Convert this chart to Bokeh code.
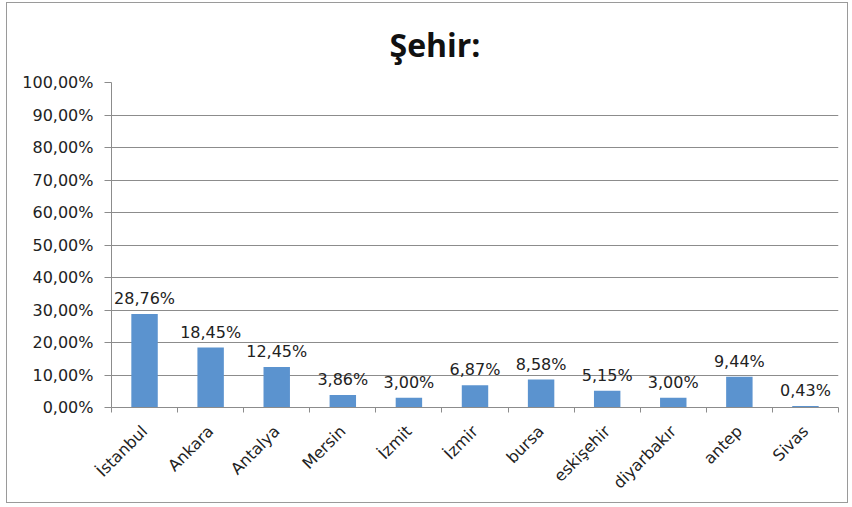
import math
from bokeh.plotting import figure
from bokeh.models import (ColumnDataSource, FixedTicker, CustomJSTickFormatter, Range1d, Title, LabelSet)
from bokeh.core.properties import value
from bokeh.embed import file_html
from bokeh.resources import INLINE

cities = ["İstanbul", "Ankara", "Antalya", "Mersin", "İzmit", "İzmir", "bursa",
          "eskişehir", "diyarbakır", "antep", "Sivas"]
shares = [28.76, 18.45, 12.45, 3.86, 3.00, 6.87, 8.58, 5.15, 3.00, 9.44, 0.43]
y_ticks = [0, 10, 20, 30, 40, 50, 60, 70, 80, 90, 100]
title_text = "Şehir:"

centers = [i + 0.5 for i in range(len(cities))]
bounds = list(range(len(cities) + 1))
labels = [f"{v:.2f}".replace(".", ",") + "%" for v in shares]

src = ColumnDataSource(dict(x=centers, top=shares, lab=labels))

p = figure(width=842, height=501, output_backend="svg", toolbar_location=None,
           x_range=Range1d(0, len(cities)), y_range=Range1d(0, 100),
           min_border_left=104, min_border_right=11, min_border_top=79, min_border_bottom=97)
p.title = None
p.add_layout(Title(text=title_text, align="left", offset=278, text_font="Open Sans",
                   text_font_size="32px", text_font_style="bold", text_color="#111111",
                   standoff=34), "above")
p.outline_line_color = None
p.background_fill_color = "white"
p.border_fill_color = "white"
p.styles = {"border": "1px solid #9a9a9a", "margin-left": "6px", "margin-top": "2px"}

p.vbar(x="x", top="top", width=0.4, source=src, fill_color="#5b93cf", line_color=None)

p.add_layout(LabelSet(x="x", y="top", text="lab", source=src, text_align="center",
                      text_baseline="bottom", y_offset=6, text_font=value("DejaVu Sans"),
                      text_font_size="16px", text_color="#222222"))

# x axis
xa = p.xaxis[0]
xa.ticker = FixedTicker(ticks=centers, minor_ticks=bounds)
xa.major_label_overrides = {c: n for c, n in zip(centers, cities)}
xa.major_label_orientation = math.pi / 4
xa.major_tick_out = 0
xa.major_tick_in = 0
xa.minor_tick_out = 5
xa.minor_tick_in = 0
xa.minor_tick_line_color = "#8c8c8c"
xa.axis_line_color = "#8c8c8c"
xa.major_label_text_font = "DejaVu Sans"
xa.major_label_text_font_size = "16px"
xa.major_label_text_color = "#222222"
xa.major_label_standoff = 16

# y axis
ya = p.yaxis[0]
ya.ticker = FixedTicker(ticks=y_ticks)
ya.formatter = CustomJSTickFormatter(code="return tick.toFixed(2).replace('.', ',') + '%';")
ya.major_tick_out = 7
ya.major_tick_in = 0
ya.minor_tick_out = 0
ya.minor_tick_in = 0
ya.major_tick_line_color = "#8c8c8c"
ya.axis_line_color = "#8c8c8c"
ya.major_label_text_font = "DejaVu Sans"
ya.major_label_text_font_size = "16px"
ya.major_label_text_color = "#222222"
ya.major_label_standoff = 11

p.xgrid.grid_line_color = None
p.ygrid.grid_line_color = "#8c8c8c"
p.ygrid.ticker = FixedTicker(ticks=y_ticks)

open("out.html", "w").write(file_html(p, INLINE))
